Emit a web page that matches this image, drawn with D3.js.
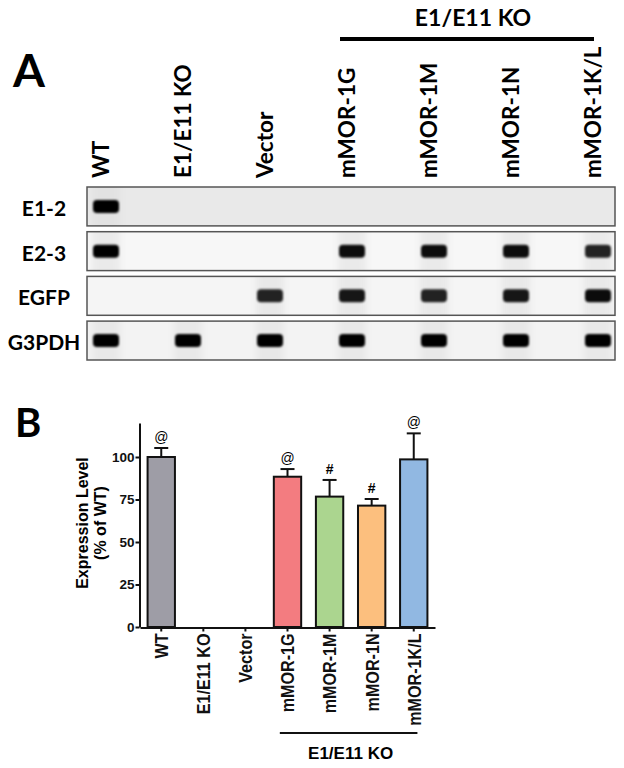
<!DOCTYPE html>
<html>
<head>
<meta charset="utf-8">
<script src="https://cdn.jsdelivr.net/npm/d3@7"></script>
<style>
  body { margin: 0; background: #fff; }
  svg { display: block; }
  .gelfont { font-family: Lato, "Open Sans", sans-serif; font-weight: 700; }
  .plotfont { font-family: "Liberation Sans", Arial, sans-serif; font-weight: 700; }
</style>
</head>
<body>
<svg id="fig" width="624" height="768"></svg>
<script>
// lanes / categories (same for gel and bar chart)
var lanes = ["WT", "E1/E11 KO", "Vector", "mMOR-1G", "mMOR-1M", "mMOR-1N", "mMOR-1K/L"];
var koGroup = ["mMOR-1G", "mMOR-1M", "mMOR-1N", "mMOR-1K/L"];

// gel rows, band intensity per lane (0 = no band)
var gelRows = ["E1-2", "E2-3", "EGFP", "G3PDH"];
var bandsE12 = [1, 0, 0, 0, 0, 0, 0];
var bandsE23 = [1, 0, 0, 0.95, 0.95, 0.95, 0.85];
var bandsEGFP = [0, 0, 0.85, 0.9, 0.85, 0.9, 0.95];
var bandsG3PDH = [1, 1, 1, 1, 1, 1, 1];
var gelBg = ["#e9e9e9", "#f7f7f7", "#f5f5f5", "#f3f3f3"];

// bar chart (% of WT)
var expression = [100, 0, 0, 88.4, 76.7, 71.4, 98.6];
var sem = [5.3, 0, 0, 4.5, 9.8, 3.9, 15.3];
var marks = ["@", "", "", "@", "#", "#", "@"];
var barColors = ["#9e9da6", "#ffffff", "#ffffff", "#f37c80", "#abd58f", "#fcbf7e", "#91b8e2"];
var yTicks = [0, 25, 50, 75, 100];

var svg = d3.select("#fig");
var defs = svg.append("defs");
defs.append("filter").attr("id", "blur").attr("x", "-50%").attr("y", "-80%").attr("width", "200%").attr("height", "260%")
  .append("feGaussianBlur").attr("stdDeviation", 1.2);
defs.append("filter").attr("id", "smear").attr("x", "-50%").attr("y", "-20%").attr("width", "200%").attr("height", "140%")
  .append("feGaussianBlur").attr("stdDeviation", 3);

// ---------- Panel A : gel ----------
svg.append("text").attr("class", "gelfont")
  .attr("x", 13).attr("y", 87)
  .attr("font-size", 46)
  .text("A");

var laneX = d3.scalePoint().domain(lanes).range([106, 598]);
var rowY = d3.scaleBand().domain(gelRows).range([187, 360]).paddingInner(0.13);
var gelLeft = 87, gelRight = 615;

// lane labels
svg.append("g").selectAll("text")
  .data(lanes)
  .join("text")
    .attr("class", "gelfont")
    .attr("font-size", 22.5)
    .attr("transform", function(d) { return "translate(" + (laneX(d) - 5) + ",178) rotate(-90)"; })
    .attr("dy", "0.36em")
    .text(function(d) { return d; });

// group bar on top
var topL = laneX(koGroup[0]) - 12, topR = laneX(koGroup[koGroup.length - 1]) - 4;
svg.append("line")
  .attr("x1", topL).attr("x2", topR)
  .attr("y1", 39).attr("y2", 39)
  .attr("stroke", "#000").attr("stroke-width", 4);
svg.append("text").attr("class", "gelfont")
  .attr("x", (topL + topR) / 2 + 6).attr("y", 26)
  .attr("text-anchor", "middle").attr("font-size", 23)
  .text("E1/E11 KO");

var bandSets = [bandsE12, bandsE23, bandsEGFP, bandsG3PDH];

gelRows.forEach(function(row, i) {
  var g = svg.append("g");
  var y0 = rowY(row), h = rowY.bandwidth();
  var cid = "clip" + i;
  defs.append("clipPath").attr("id", cid)
    .append("rect").attr("x", gelLeft).attr("y", y0).attr("width", gelRight - gelLeft).attr("height", h);

  g.append("rect")
    .attr("x", gelLeft).attr("y", y0)
    .attr("width", gelRight - gelLeft).attr("height", h)
    .attr("fill", gelBg[i]);

  var inner = g.append("g").attr("clip-path", "url(#" + cid + ")");
  var bands = bandSets[i];

  // faint lane smears
  inner.selectAll("rect.smear")
    .data(lanes.filter(function(d, j) { return bands[j] > 0; }))
    .join("rect")
      .attr("class", "smear")
      .attr("x", function(d) { return laneX(d) - 14; })
      .attr("y", y0 - 6)
      .attr("width", 28).attr("height", h + 12)
      .attr("fill", "#d8d8d8").attr("opacity", 0.4)
      .attr("filter", "url(#smear)");

  inner.selectAll("rect.band")
    .data(lanes.map(function(d, j) { return {lane: d, v: bands[j]}; }).filter(function(d) { return d.v > 0; }))
    .join("rect")
      .attr("class", "band")
      .attr("x", function(d) { return laneX(d.lane) - 13; })
      .attr("y", y0 + h / 2 - 6.5)
      .attr("width", 26).attr("height", 13)
      .attr("rx", 4)
      .attr("fill", "#050505")
      .attr("opacity", function(d) { return d.v; })
      .attr("filter", "url(#blur)");

  g.append("rect")
    .attr("x", gelLeft).attr("y", y0)
    .attr("width", gelRight - gelLeft).attr("height", h)
    .attr("fill", "none").attr("stroke", "#555").attr("stroke-width", 1.5);

  svg.append("text").attr("class", "gelfont")
    .attr("x", 44).attr("y", y0 + h / 2 + 2)
    .attr("dy", "0.36em")
    .attr("text-anchor", "middle").attr("font-size", 21)
    .text(row);
});

// ---------- Panel B : bars ----------
svg.append("text").attr("class", "gelfont")
  .attr("x", 15).attr("y", 437)
  .attr("font-size", 40)
  .text("B");

var x = d3.scaleBand().domain(lanes).range([140, 435]).paddingInner(0.35).paddingOuter(0.18);
var y = d3.scaleLinear().domain([0, 120]).range([627, 423]);

var bars = svg.append("g");
bars.selectAll("rect")
  .data(lanes.map(function(d, i) { return {lane: d, v: expression[i], c: barColors[i]}; }).filter(function(d) { return d.v > 0; }))
  .join("rect")
    .attr("x", function(d) { return x(d.lane); })
    .attr("y", function(d) { return y(d.v); })
    .attr("width", x.bandwidth())
    .attr("height", function(d) { return y(0) - y(d.v); })
    .attr("fill", function(d) { return d.c; })
    .attr("stroke", "#111").attr("stroke-width", 2);

var err = svg.append("g").attr("stroke", "#111").attr("stroke-width", 2);
lanes.forEach(function(d, i) {
  if (expression[i] <= 0) return;
  var cx = x(d) + x.bandwidth() / 2;
  err.append("line").attr("x1", cx).attr("x2", cx).attr("y1", y(expression[i])).attr("y2", y(expression[i] + sem[i]));
  err.append("line").attr("x1", cx - 7).attr("x2", cx + 7).attr("y1", y(expression[i] + sem[i])).attr("y2", y(expression[i] + sem[i]));
  svg.append("text")
    .attr("x", cx).attr("y", y(expression[i] + sem[i]) - 11)
    .attr("dy", "0.36em")
    .attr("text-anchor", "middle")
    .attr("font-family", "'Liberation Sans', Arial, sans-serif")
    .attr("font-weight", marks[i] == "#" ? 700 : 400)
    .attr("font-size", 14)
    .text(marks[i]);
});

var yAxis = svg.append("g")
  .attr("transform", "translate(139.5,0)")
  .call(d3.axisLeft(y).tickValues(yTicks).tickSize(4).tickSizeOuter(0).tickPadding(1));
yAxis.selectAll("text").attr("class", "plotfont").attr("font-size", 13.5).attr("fill", "#111");

var xAxis = svg.append("g")
  .attr("transform", "translate(0,627.5)")
  .call(d3.axisBottom(x).tickSize(4).tickSizeOuter(0));
// labels a bit condensed, like the original figure
xAxis.selectAll("text")
  .attr("class", "plotfont")
  .attr("font-size", 19)
  .attr("fill", "#111")
  .attr("transform", "rotate(-90) scale(0.85,1)")
  .attr("x", -7).attr("y", 0).attr("dy", "0.36em")
  .style("text-anchor", "end");
svg.selectAll(".domain, .tick line").attr("stroke", "#111").attr("stroke-width", 2);

// y title
svg.append("text").attr("class", "plotfont")
  .attr("transform", "translate(82,523) rotate(-90)")
  .attr("dy", "0.36em")
  .attr("text-anchor", "middle").attr("font-size", 16)
  .text("Expression Level");
svg.append("text").attr("class", "plotfont")
  .attr("transform", "translate(100,523) rotate(-90)")
  .attr("dy", "0.36em")
  .attr("text-anchor", "middle").attr("font-size", 16)
  .text("(% of WT)");

// group bracket under the axis
var botL = x(koGroup[0]) + 6, botR = x(koGroup[koGroup.length - 1]) + x.bandwidth() - 10;
svg.append("line")
  .attr("x1", botL).attr("x2", botR)
  .attr("y1", 733).attr("y2", 733)
  .attr("stroke", "#111").attr("stroke-width", 2);
svg.append("text").attr("class", "plotfont")
  .attr("x", (botL + botR) / 2 + 2).attr("y", 759)
  .attr("text-anchor", "middle").attr("font-size", 17)
  .text("E1/E11 KO");
</script>
</body>
</html>
